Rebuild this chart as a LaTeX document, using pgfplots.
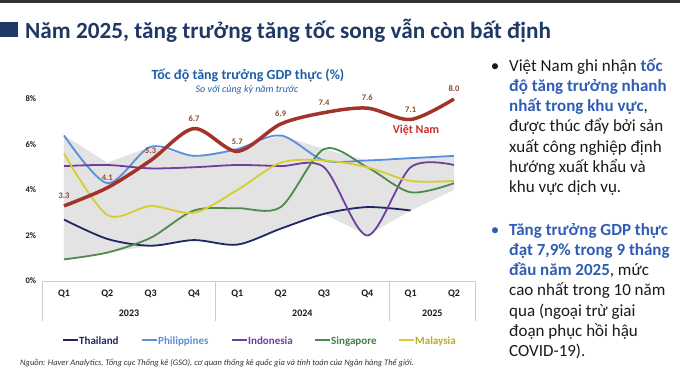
\documentclass[border=0pt]{standalone}
\usepackage{pgfplots}
\pgfplotsset{compat=1.18}
\usepackage{fontspec}
\setmainfont{Carlito}
\definecolor{titlenavy}{HTML}{1F3864}
\definecolor{cthai}{HTML}{1E2761}
\definecolor{cphil}{HTML}{5A8FDC}
\definecolor{cindo}{HTML}{6F3FA0}
\definecolor{csing}{HTML}{4E8A4E}
\definecolor{cmal}{HTML}{D8CC2E}
\definecolor{cvn}{HTML}{A3322A}
\definecolor{cvnlab}{HTML}{8B4A2B}
\definecolor{cvnname}{HTML}{C8302C}
\definecolor{cblue}{HTML}{2F5DB5}
\definecolor{ctitle}{HTML}{1F5FAA}
\definecolor{ctext}{HTML}{1A1A1A}
\begin{document}
\begin{tikzpicture}
\useasboundingbox (0,0) rectangle (680bp,-385bp);
\fill[white] (0,0) rectangle (680bp,-385bp);
\fill[black!80] (0,0) rectangle (680bp,-3bp);
\fill[titlenavy] (0,-22bp) rectangle (18bp,-37bp);
\node[anchor=base west, inner sep=0, text=titlenavy, font=\fontsize{23.2bp}{27bp}\selectfont\bfseries] at (25bp,-38bp) {Năm 2025, tăng trưởng tăng tốc song vẫn còn bất định};
% chart titles
\node[anchor=center, inner sep=0, text=ctitle, font=\fontsize{14bp}{16bp}\selectfont\bfseries] at (248bp,-75bp) {Tốc độ tăng trưởng GDP thực (\%)};
\node[anchor=center, inner sep=0, text=ctitle, font=\fontsize{10bp}{12bp}\selectfont\itshape] at (247bp,-90bp) {So với cùng kỳ năm trước};
\begin{axis}[at={(42.33bp,-281bp)}, anchor=south west, scale only axis,
  width=433.33bp, height=182bp, xmin=-0.5, xmax=9.5, ymin=0, ymax=8,
  clip=false, axis line style={draw=none}, major tick length=0pt, tick style={draw=none},
  xtick={0,...,9}, xticklabels={Q1,Q2,Q3,Q4,Q1,Q2,Q3,Q4,Q1,Q2},
  ytick={0,2,4,6,8}, yticklabels={0\%,2\%,4\%,6\%,8\%},
  xticklabel style={font=\fontsize{10bp}{12bp}\selectfont\bfseries, anchor=center, inner sep=0, yshift=-13bp, text=ctext},
  yticklabel style={font=\fontsize{8.5bp}{10bp}\selectfont\bfseries, anchor=east, inner sep=0, xshift=-6bp, text=ctext},
  every axis plot/.append style={line join=round}]
\addplot[draw=none, fill=gray!22] coordinates {(0,0.95)(1,1.25)(2,1.55)(3,1.8)(4,1.6)(5,2.3)(6,2.95)(7,2.0)(8,3.1)(9,4.0)(9,5.5)(8,5.4)(7,5.3)(6,5.8)(5,6.4)(4,5.8)(3,5.5)(2,5.9)(1,5.2)(0,6.4)};
\draw[black!20, line width=0.8bp] (axis cs:-0.5,0) -- (axis cs:9.5,0);
\draw[black!20, line width=0.8bp] (axis cs:-0.5,0) -- (axis cs:-0.5,-1.76);
\draw[black!20, line width=0.8bp] (axis cs:3.5,0) -- (axis cs:3.5,-1.76);
\draw[black!20, line width=0.8bp] (axis cs:7.5,0) -- (axis cs:7.5,-1.76);
\draw[black!20, line width=0.8bp] (axis cs:9.5,0) -- (axis cs:9.5,-1.76);
\node[font=\fontsize{10bp}{12bp}\selectfont\bfseries, text=ctext] at (axis cs:1.5,-1.4) {2023};
\node[font=\fontsize{10bp}{12bp}\selectfont\bfseries, text=ctext] at (axis cs:5.5,-1.4) {2024};
\node[font=\fontsize{10bp}{12bp}\selectfont\bfseries, text=ctext] at (axis cs:8.5,-1.4) {2025};
% Thailand
\addplot[cthai, line width=1.8bp, smooth] coordinates {(0,2.7)(1,1.85)(2,1.55)(3,1.8)(4,1.6)(5,2.3)(6,2.95)(7,3.25)(8,3.1)};
% Philippines
\addplot[cphil, line width=1.8bp, smooth] coordinates {(0,6.4)(1,4.3)(2,5.9)(3,5.5)(4,5.8)(5,6.4)(6,5.3)(7,5.3)(8,5.4)(9,5.5)};
% Indonesia
\addplot[cindo, line width=1.8bp, smooth] coordinates {(0,5.05)(1,5.1)(2,4.95)(3,5.0)(4,5.1)(5,5.05)(6,5.0)(7,2.0)(8,5.0)(9,5.1)};
% Singapore
\addplot[csing, line width=1.8bp, smooth] coordinates {(0,0.95)(1,1.25)(2,1.9)(3,3.1)(4,3.2)(5,3.25)(6,5.8)(7,5.0)(8,3.9)(9,4.3)};
% Malaysia
\addplot[cmal, line width=1.8bp, smooth] coordinates {(0,5.6)(1,2.9)(2,3.3)(3,3.0)(4,4.0)(5,5.2)(6,5.3)(7,5.0)(8,4.4)(9,4.4)};
% Vietnam
\addplot[cvn, line width=3.5bp, smooth,
  nodes near coords={\pgfmathprintnumber[fixed,fixed zerofill,precision=1,assume math mode=true]{\pgfplotspointmeta}},
  every node near coord/.style={font=\fontsize{8.5bp}{10bp}\selectfont\bfseries, text=cvnlab, anchor=center, yshift=10bp, inner sep=0}]
  coordinates {(0,3.3)(1,4.1)(2,5.3)(3,6.7)(4,5.7)(5,6.9)(6,7.4)(7,7.6)(8,7.1)(9,8.0)};
\end{axis}
\node[font=\fontsize{12bp}{14bp}\selectfont\bfseries, text=cvnname, inner sep=0] at (416bp,-130bp) {Việt Nam};
% legend
\begin{scope}[font=\fontsize{11bp}{13bp}\selectfont\bfseries]
\draw[cthai, line width=1.5bp] (63bp,-340bp) -- (78bp,-340bp);
\node[anchor=base west, inner sep=0, text=cthai] at (79bp,-344bp) {Thailand};
\draw[cphil, line width=1.5bp] (142bp,-340bp) -- (157bp,-340bp);
\node[anchor=base west, inner sep=0, text=cphil] at (158bp,-344bp) {Philippines};
\draw[cindo, line width=1.5bp] (232bp,-340bp) -- (247bp,-340bp);
\node[anchor=base west, inner sep=0, text=cindo] at (248bp,-344bp) {Indonesia};
\draw[csing, line width=1.5bp] (315bp,-340bp) -- (330bp,-340bp);
\node[anchor=base west, inner sep=0, text=csing!90!black] at (331bp,-344bp) {Singapore};
\draw[cmal, line width=1.5bp] (399bp,-340bp) -- (414bp,-340bp);
\node[anchor=base west, inner sep=0, text=cmal!85!black] at (415bp,-344bp) {Malaysia};
\end{scope}
\node[anchor=base west, inner sep=0, text=black!80, font=\fontsize{8.5bp}{10bp}\selectfont\itshape] at (20bp,-365bp) {Nguồn: Haver Analytics, Tổng cục Thống kê (GSO), cơ quan thống kê quốc gia và tính toán của Ngân hàng Thế giới.};
% right text
\begin{scope}[font=\fontsize{17bp}{20bp}\selectfont, text=ctext]
\node[anchor=base, inner sep=0] at (495bp,-71bp) {•};
\node[anchor=base west, inner sep=0] at (509bp,-71bp) {Việt Nam ghi nhận \textcolor{cblue}{\bfseries tốc}};
\node[anchor=base west, inner sep=0] at (509bp,-91.3bp) {\textcolor{cblue}{\bfseries độ tăng trưởng nhanh}};
\node[anchor=base west, inner sep=0] at (509bp,-111.6bp) {\textcolor{cblue}{\bfseries nhất trong khu vực},};
\node[anchor=base west, inner sep=0] at (509bp,-131.9bp) {được thúc đẩy bởi sản};
\node[anchor=base west, inner sep=0] at (509bp,-152.2bp) {xuất công nghiệp định};
\node[anchor=base west, inner sep=0] at (509bp,-172.5bp) {hướng xuất khẩu và};
\node[anchor=base west, inner sep=0] at (509bp,-192.8bp) {khu vực dịch vụ.};
\node[anchor=base, inner sep=0, text=cblue] at (495bp,-235bp) {•};
\node[anchor=base west, inner sep=0] at (509bp,-235bp) {\textcolor{cblue}{\bfseries Tăng trưởng GDP thực}};
\node[anchor=base west, inner sep=0] at (509bp,-255.3bp) {\textcolor{cblue}{\bfseries đạt 7,9\% trong 9 tháng}};
\node[anchor=base west, inner sep=0] at (509bp,-275.6bp) {\textcolor{cblue}{\bfseries đầu năm 2025}, mức};
\node[anchor=base west, inner sep=0] at (509bp,-295.9bp) {cao nhất trong 10 năm};
\node[anchor=base west, inner sep=0] at (509bp,-316.2bp) {qua (ngoại trừ giai};
\node[anchor=base west, inner sep=0] at (509bp,-336.5bp) {đoạn phục hồi hậu};
\node[anchor=base west, inner sep=0] at (509bp,-356.8bp) {COVID-19).};
\end{scope}
\end{tikzpicture}
\end{document}
